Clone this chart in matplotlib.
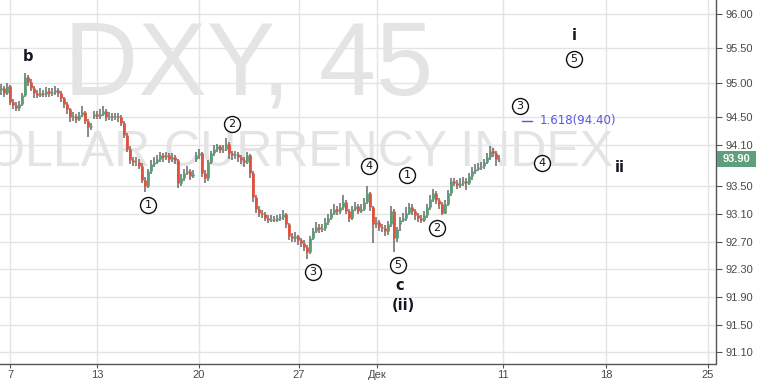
import numpy as np
import matplotlib
matplotlib.use("Agg")
import matplotlib.pyplot as plt
from matplotlib import transforms

# 45-min DXY bars (resampled), open / high / low / close
opens = [94.90, 94.92, 94.85, 94.95, 94.72, 94.68, 94.64, 94.70, 94.82, 95.08,
         95.02, 94.92, 94.85, 94.83, 94.86, 94.84, 94.88, 94.85, 94.87, 94.90,
         94.86, 94.78, 94.70, 94.62, 94.50, 94.52, 94.48, 94.53, 94.58, 94.45,
         94.36, 94.52, 94.55, 94.52, 94.55, 94.60, 94.50, 94.52, 94.50, 94.52,
         94.50, 94.42, 94.25, 94.05, 93.88, 93.85, 93.86, 93.80, 93.60, 93.50,
         93.72, 93.82, 93.86, 93.90, 93.95, 93.92, 93.96, 93.90, 93.93, 93.88,
         93.55, 93.62, 93.70, 93.72, 93.65, 93.90, 93.95, 93.98, 93.70, 93.62,
         93.85, 93.98, 94.05, 94.08, 94.03, 94.05, 94.12, 93.98, 93.95, 93.97,
         93.92, 93.88, 93.85, 93.95, 93.70, 93.35, 93.18, 93.12, 93.10, 93.05,
         93.02, 93.03, 93.02, 93.04, 93.06, 93.10, 92.95, 92.78, 92.75, 92.78,
         92.72, 92.68, 92.62, 92.55, 92.75, 92.85, 92.92, 92.88, 92.90, 92.98,
         93.05, 93.12, 93.18, 93.15, 93.20, 93.28, 93.15, 93.05, 93.18, 93.22,
         93.15, 93.18, 93.28, 93.40, 93.20, 92.95, 92.98, 92.92, 92.90, 92.85,
         92.95, 93.15, 92.75, 92.95, 93.02, 93.05, 93.12, 93.20, 93.15, 93.08,
         93.04, 93.02, 93.08, 93.20, 93.32, 93.40, 93.30, 93.25, 93.12, 93.25,
         93.40, 93.58, 93.55, 93.52, 93.55, 93.58, 93.55, 93.65, 93.72, 93.75,
         93.78, 93.80, 93.85, 93.92, 94.02, 93.98, 93.90]
closes = [94.92, 94.85, 94.95, 94.72, 94.68, 94.64, 94.70, 94.82, 95.08, 95.02,
          94.92, 94.85, 94.83, 94.86, 94.84, 94.88, 94.85, 94.87, 94.90, 94.86,
          94.78, 94.70, 94.62, 94.50, 94.52, 94.48, 94.53, 94.58, 94.45, 94.36,
          94.38, 94.55, 94.52, 94.55, 94.60, 94.50, 94.52, 94.50, 94.52, 94.50,
          94.42, 94.25, 94.05, 93.88, 93.85, 93.86, 93.80, 93.60, 93.50, 93.72,
          93.82, 93.86, 93.90, 93.95, 93.92, 93.96, 93.90, 93.93, 93.88, 93.55,
          93.62, 93.70, 93.72, 93.65, 93.68, 93.95, 93.98, 93.70, 93.62, 93.85,
          93.98, 94.05, 94.08, 94.03, 94.05, 94.12, 93.98, 93.95, 93.97, 93.92,
          93.88, 93.85, 93.95, 93.70, 93.35, 93.18, 93.12, 93.10, 93.05, 93.02,
          93.03, 93.02, 93.04, 93.06, 93.10, 92.95, 92.78, 92.75, 92.78, 92.72,
          92.68, 92.62, 92.55, 92.75, 92.85, 92.92, 92.88, 92.90, 92.98, 93.05,
          93.12, 93.18, 93.15, 93.20, 93.28, 93.15, 93.05, 93.18, 93.22, 93.15,
          93.18, 93.28, 93.40, 93.20, 92.95, 92.98, 92.92, 92.90, 92.85, 92.95,
          93.15, 92.75, 92.88, 93.02, 93.05, 93.12, 93.20, 93.15, 93.08, 93.04,
          93.02, 93.08, 93.20, 93.32, 93.40, 93.30, 93.25, 93.12, 93.25, 93.40,
          93.58, 93.55, 93.52, 93.55, 93.58, 93.55, 93.65, 93.72, 93.75, 93.78,
          93.80, 93.85, 93.92, 94.02, 93.98, 93.90, 93.90]
highs = [94.98, 94.96, 95.00, 94.97, 94.76, 94.72, 94.74, 94.86, 95.15, 95.12,
         95.05, 94.95, 94.90, 94.92, 94.90, 94.94, 94.92, 94.93, 94.96, 94.92,
         94.88, 94.80, 94.73, 94.64, 94.58, 94.55, 94.58, 94.66, 94.60, 94.48,
         94.42, 94.60, 94.60, 94.62, 94.67, 94.62, 94.58, 94.56, 94.57, 94.56,
         94.54, 94.45, 94.28, 94.08, 93.92, 93.92, 93.90, 93.84, 93.64, 93.76,
         93.88, 93.92, 93.96, 94.00, 93.98, 94.00, 93.99, 93.98, 93.96, 93.90,
         93.68, 93.76, 93.80, 93.76, 93.74, 94.00, 94.05, 94.00, 93.74, 93.88,
         94.02, 94.10, 94.12, 94.10, 94.10, 94.20, 94.14, 94.02, 94.02, 94.00,
         93.95, 93.92, 94.00, 93.97, 93.72, 93.38, 93.22, 93.16, 93.13, 93.08,
         93.08, 93.07, 93.08, 93.10, 93.16, 93.12, 92.97, 92.82, 92.84, 92.80,
         92.76, 92.72, 92.66, 92.78, 92.90, 92.98, 92.96, 92.96, 93.04, 93.10,
         93.18, 93.24, 93.22, 93.26, 93.38, 93.30, 93.18, 93.22, 93.28, 93.25,
         93.24, 93.34, 93.50, 93.42, 93.22, 93.06, 93.02, 92.96, 92.94, 93.00,
         93.22, 93.17, 92.92, 93.06, 93.12, 93.20, 93.26, 93.24, 93.18, 93.12,
         93.08, 93.14, 93.25, 93.38, 93.46, 93.43, 93.34, 93.28, 93.30, 93.45,
         93.62, 93.62, 93.60, 93.62, 93.64, 93.62, 93.70, 93.78, 93.82, 93.84,
         93.86, 93.90, 93.98, 94.08, 94.06, 94.02, 93.95]
lows = [94.82, 94.80, 94.82, 94.68, 94.62, 94.60, 94.60, 94.66, 94.80, 94.96,
        94.88, 94.78, 94.78, 94.80, 94.79, 94.80, 94.80, 94.81, 94.83, 94.80,
        94.72, 94.64, 94.55, 94.44, 94.45, 94.42, 94.45, 94.50, 94.40, 94.22,
        94.32, 94.48, 94.48, 94.48, 94.52, 94.45, 94.46, 94.45, 94.46, 94.44,
        94.38, 94.20, 94.00, 93.82, 93.80, 93.80, 93.76, 93.55, 93.42, 93.48,
        93.68, 93.78, 93.82, 93.86, 93.86, 93.88, 93.84, 93.86, 93.82, 93.48,
        93.50, 93.58, 93.66, 93.60, 93.62, 93.85, 93.90, 93.64, 93.55, 93.58,
        93.82, 93.94, 94.00, 93.98, 93.98, 94.02, 93.90, 93.88, 93.90, 93.86,
        93.82, 93.78, 93.82, 93.62, 93.28, 93.12, 93.06, 93.04, 93.00, 92.97,
        92.98, 92.98, 92.99, 93.00, 93.02, 92.90, 92.72, 92.70, 92.70, 92.66,
        92.62, 92.56, 92.45, 92.52, 92.72, 92.82, 92.82, 92.84, 92.86, 92.94,
        93.02, 93.08, 93.08, 93.10, 93.16, 93.10, 92.98, 93.02, 93.14, 93.10,
        93.12, 93.14, 93.24, 93.14, 92.68, 92.90, 92.86, 92.84, 92.78, 92.80,
        92.92, 92.55, 92.70, 92.85, 92.98, 93.00, 93.08, 93.08, 93.02, 92.98,
        92.97, 92.98, 93.04, 93.16, 93.28, 93.24, 93.18, 93.08, 93.10, 93.22,
        93.36, 93.50, 93.47, 93.48, 93.50, 93.45, 93.52, 93.60, 93.68, 93.72,
        93.74, 93.76, 93.82, 93.88, 93.92, 93.80, 93.85]

last_price = 93.90
yticks = [91.10, 91.50, 91.90, 92.30, 92.70, 93.10, 93.50, 94.10, 94.50, 95.00, 95.50, 96.00]
xtick_pos = [3.0, 32.0, 66.0, 99.3, 125.3, 167.3, 201.7, 235.7]
xtick_labels = ["7", "13", "20", "27", "Дек", "11", "18", "25"]

# elliott wave marks
wave_nums = ["1", "2", "3", "4", "5", "1", "2", "3", "4", "5"]
wave_x = [49.0, 77.0, 104.0, 122.7, 132.3, 135.3, 145.3, 173.0, 180.3, 191.0]
wave_y = [93.23, 94.41, 92.26, 93.80, 92.36, 93.67, 92.90, 94.67, 93.84, 95.35]
deg_labels = ["b", "c", "(ii)", "i", "ii"]
deg_x = [9.0, 133.0, 134.0, 191.0, 206.3]
deg_y = [95.38, 92.07, 91.78, 95.68, 93.77]

W, H = 758, 380
fig = plt.figure(figsize=(W / 100, H / 100), dpi=100)
ax = fig.add_axes([0, 16 / H, 716 / W, 364 / H])

x = np.arange(len(closes))
o = np.array(opens); c = np.array(closes)
up = c >= o
ax.vlines(x, lows, highs, color="#6a6a6a", lw=1.1, zorder=3)
ax.vlines(x[up], o[up], c[up], color="#5a9e78", lw=2.0, zorder=4)
ax.vlines(x[~up], o[~up], c[~up], color="#e4503a", lw=2.0, zorder=4)

ax.set_xlim(-0.33, 238.33)
ax.set_ylim(90.93, 96.20)

# watermark
wm = "#e4e4e4"
ax.text(249 / 716, 1 - 94 / 364, "DXY, 45", transform=ax.transAxes, ha="center",
        va="baseline", fontsize=74, color=wm, family="Liberation Sans", zorder=1)
ax.text(282 / 716, 1 - 166 / 364, "DOLLAR CURRENCY INDEX", transform=ax.transAxes,
        ha="center", va="baseline", fontsize=36, color=wm, family="Liberation Sans", zorder=1)

# grid / axes
ax.set_yticks(yticks)
ax.set_xticks(xtick_pos)
ax.set_xticklabels(xtick_labels)
ax.grid(True, color="#e4e4e4", lw=1, zorder=0)
ax.set_axisbelow(True)
ax.yaxis.tick_right()
for s in ["top", "left"]:
    ax.spines[s].set_visible(False)
for s in ["right", "bottom"]:
    ax.spines[s].set_color("#555555")
    ax.spines[s].set_linewidth(1)
ax.tick_params(axis="y", direction="out", length=4, color="#555555", labelsize=8,
               labelcolor="#4a4a4a", pad=3)
ax.tick_params(axis="x", direction="out", length=3, color="#555555", labelsize=8,
               labelcolor="#4a4a4a", pad=1.5)
ax.set_yticklabels([f"{v:.2f}" for v in yticks], family="Liberation Sans")
for lab in ax.get_xticklabels():
    lab.set_family("Liberation Sans")

# last price tag
tag_tr = transforms.blended_transform_factory(fig.transFigure, ax.transData)
ax.add_patch(plt.Rectangle((717 / W, last_price - 0.115), 39 / W, 0.23, transform=tag_tr,
                           fc="#5e9f7c", ec="none", clip_on=False, zorder=10))
ax.text(736.5 / W, last_price, f"{last_price:.2f}", transform=tag_tr, ha="center",
        va="center", fontsize=8, fontweight="bold", color="white",
        family="Liberation Sans", zorder=11, clip_on=False)

# wave labels
ax.plot(wave_x, wave_y, "o", ms=11.5, mfc="white", mec="#111111", mew=1.0, zorder=6)
for n, wx, wy in zip(wave_nums, wave_x, wave_y):
    ax.text(wx, wy, n, ha="center", va="center", fontsize=8, color="#111111", zorder=7)
for t, dx, dy in zip(deg_labels, deg_x, deg_y):
    ax.text(dx, dy, t, ha="center", va="center", fontsize=10.5, fontweight="bold",
            color="#131722", zorder=7)

# fib extension
fib_color = "#5656e0"
ax.plot([173.7, 177.0], [94.45, 94.45], color=fib_color, lw=1, zorder=6)
ax.text(179.7, 94.45, "1.618(94.40)", ha="left", va="center", fontsize=8.5,
        color=fib_color, zorder=7)

# cover the clipped part of the last date label
fig.patches.append(plt.Rectangle((717 / W, 0), 1, 16 / H, transform=fig.transFigure,
                                 fc="white", ec="none", zorder=20))

fig.savefig("out.png", dpi=100)
